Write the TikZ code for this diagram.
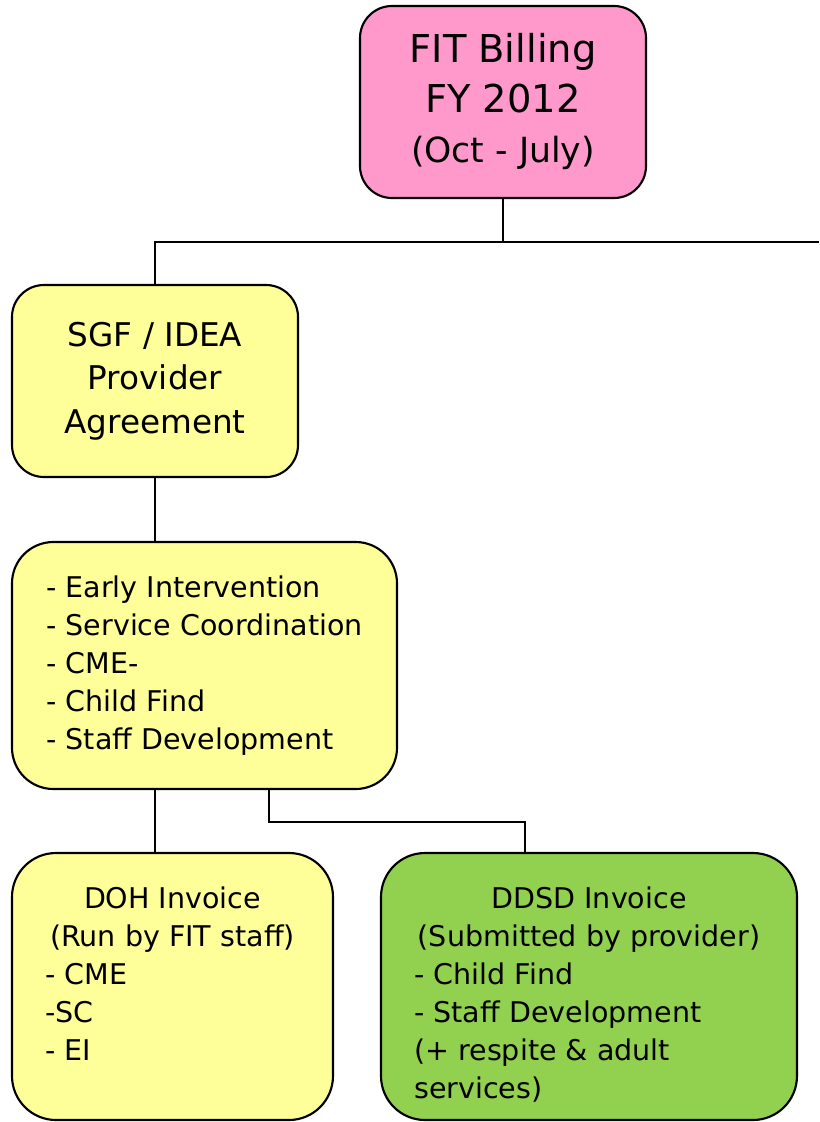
\documentclass[tikz,border=0pt]{standalone}
\usepackage{fontspec}
\setmainfont{DejaVu Sans}
\usetikzlibrary{positioning}
\definecolor{billpink}{HTML}{FF99CC}
\definecolor{provyellow}{HTML}{FFFF99}
\definecolor{ddsdgreen}{HTML}{92D050}

\begin{document}
\begin{tikzpicture}[
    x=0.75pt, y=-0.75pt,
    block/.style={draw, rectangle, line width=1.6pt, align=center},
    invoice/.style={draw, rectangle, line width=1.6pt, rounded corners=33pt,
        inner xsep=25pt, inner ysep=25pt, font=\fontsize{21.4}{28.5}\selectfont},
    link/.style={line width=1.1pt}
]
    \useasboundingbox (0,0) rectangle (819,1122);

    % Top
    \node[block, fill=billpink, rounded corners=24pt, minimum width=214.5pt, minimum height=144pt,
        font=\fontsize{28.8}{37.5}\selectfont] (fit) at (503,102)
        {FIT Billing\\FY 2012\\{\fontsize{26}{37.5}\selectfont (Oct - July)}};

    % Agreement
    \node[block, fill=provyellow, rounded corners=24pt, minimum width=214.5pt, minimum height=144pt,
        font=\fontsize{24.5}{32.6}\selectfont] (sgf) at (155,381)
        {SGF / IDEA\\Provider\\Agreement};

    % Services
    \node[block, fill=provyellow, rounded corners=31pt, minimum width=288.75pt, minimum height=185.25pt,
        align=left, font=\fontsize{21.4}{28.5}\selectfont] (svc) at (204.5,665.5)
        {- Early Intervention\\- Service Coordination\\- CME-\\- Child Find\\- Staff Development};

    % Invoices
    \node[invoice, fill=provyellow] (doh) at (172.5,986.5)
        {\parbox[c][150.25pt][t]{190.75pt}{\centering DOH Invoice\\(Run by FIT staff)\par
         \raggedright - CME\\-SC\\- EI}};
    \node[invoice, fill=ddsdgreen] (ddsd) at (589,986.5)
        {\parbox[c][150.25pt][t]{262pt}{\centering DDSD Invoice\\(Submitted by provider)\par
         \raggedright - Child Find\\- Staff Development\\(+ respite \& adult\\services)}};

    % Connections
    \coordinate (busL) at (155,242);
    \coordinate (busR) at (819,242);
    \coordinate (splitA) at (269,822);
    \coordinate (splitB) at (525,822);
    \draw[link] (fit.south) -- (fit.south |- busR);
    \draw[link] (busR) -- (busL) -- (sgf.north);
    \draw[link] (sgf.south) -- (sgf.south |- svc.north);
    \draw[link] (svc.south -| sgf.south) -- (doh.north -| sgf.south);
    \draw[link] (svc.south -| splitA) -- (splitA) -- (splitB) -- (splitB |- ddsd.north);
\end{tikzpicture}
\end{document}
